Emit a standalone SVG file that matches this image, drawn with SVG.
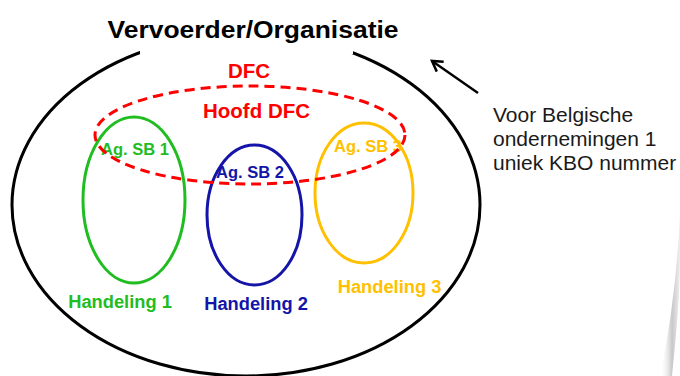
<svg xmlns="http://www.w3.org/2000/svg" width="680" height="376" viewBox="0 0 680 376">
<style>
.b{font-family:"Liberation Sans",Arial,sans-serif;font-weight:bold;text-anchor:middle}
.r{font-family:"Liberation Sans",Arial,sans-serif;font-size:21px;fill:#1a1a1a}
.ring{fill:none;stroke-width:3}
</style>
<defs>
<marker id="ah" markerWidth="14" markerHeight="14" refX="11" refY="7" orient="auto" markerUnits="userSpaceOnUse">
<path d="M1,1 L11,7 L1,13" fill="none" stroke="#000" stroke-width="2.5"/>
</marker>
<linearGradient id="curl" x1="0" y1="0" x2="1" y2="0">
<stop offset="0" stop-color="#ffffff" stop-opacity="0"/>
<stop offset="0.6" stop-color="#c8c8c8"/>
<stop offset="1" stop-color="#eeeeee"/>
</linearGradient>
</defs>
<rect width="680" height="376" fill="#fff"/>
<path d="M680,215 Q676,300 660,376 L672,376 Q680,300 680,260 Z" fill="url(#curl)"/>
<g id="organisatie">
<ellipse class="ring" cx="246" cy="205" rx="234" ry="171" stroke="#000"/>
<rect x="140" y="5" width="213" height="49" fill="#fff"/>
<text class="b" x="253" y="38" font-size="23.5" textLength="291" lengthAdjust="spacingAndGlyphs">Vervoerder/Organisatie</text>
</g>
<g id="handeling1">
<ellipse class="ring" cx="134" cy="200" rx="51" ry="83" stroke="#1fbd1f"/>
<text class="b" x="135" y="155" font-size="16.5" fill="#1fbd1f">Ag. SB 1</text>
<text class="b" x="120" y="308" font-size="18.3" fill="#1fbd1f">Handeling 1</text>
</g>
<g id="handeling2">
<ellipse class="ring" cx="254.5" cy="215" rx="47.5" ry="70" stroke="#1414a8"/>
<text class="b" x="250" y="178" font-size="16.5" fill="#1414a8">Ag. SB 2</text>
<text class="b" x="256" y="310" font-size="18.3" fill="#1414a8">Handeling 2</text>
</g>
<g id="handeling3">
<ellipse class="ring" cx="364" cy="193" rx="49" ry="70" stroke="#ffc000"/>
<text class="b" x="368" y="152" font-size="16.5" fill="#ffc000">Ag. SB 3</text>
<text class="b" x="389.5" y="293" font-size="18.3" fill="#ffc000">Handeling 3</text>
</g>
<g id="dfc">
<ellipse class="ring" cx="250" cy="135" rx="155" ry="49" stroke="#ff0000" stroke-dasharray="10 6"/>
<text class="b" x="249" y="78" font-size="20.5" fill="#ff0000">DFC</text>
<text class="b" x="256.5" y="118" font-size="20.5" fill="#ff0000">Hoofd DFC</text>
</g>
<g id="note">
<text class="r" x="493" y="122">Voor Belgische</text>
<text class="r" x="493" y="146">ondernemingen 1</text>
<text class="r" x="493" y="170">uniek KBO nummer</text>
</g>
<g id="connectors">
<line x1="478" y1="93" x2="432" y2="61" stroke="#000" stroke-width="2.5" marker-end="url(#ah)"/>
</g>
</svg>
